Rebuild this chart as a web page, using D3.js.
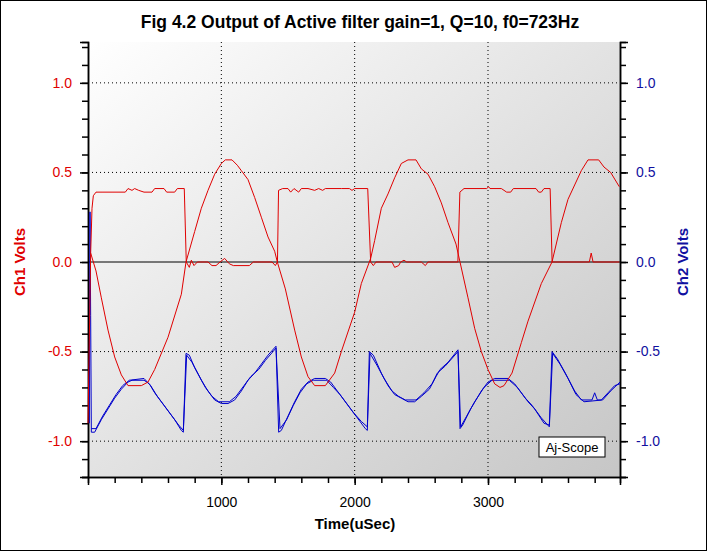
<!DOCTYPE html>
<html><head><meta charset="utf-8">
<script src="https://cdn.jsdelivr.net/npm/d3@7"></script>
<style>body{margin:0;background:#fff}svg{display:block;font-family:Arial,"Liberation Sans",sans-serif}</style>
</head><body><svg id="c" width="707" height="551"></svg>
<script>
const title = "Fig 4.2 Output of Active filter gain=1,  Q=10,  f0=723Hz";
const xTicks = [1000, 2000, 3000];
const yTicks = [1.0, 0.5, 0.0, -0.5, -1.0];
const yTickLabels = ["1.0", "0.5", "0.0", "-0.5", "-1.0"];
// Ch1 square-like trace [time, volts]
const ch1Square = [[0,-0.9],[20,0.05],[30,0.3],[40,0.37],[60,0.39],[280,0.39],[300,0.41],[330,0.4],[350,0.41],[380,0.4],[420,0.39],[480,0.39],[500,0.41],[570,0.41],[590,0.39],[650,0.39],[670,0.41],[722,0.41],[737,0.0],[760,-0.03],[775,0.01],[795,-0.02],[820,0],[900,0],[930,-0.02],[960,-0.02],[990,0],[1025,0.02],[1060,-0.01],[1090,-0.02],[1210,-0.02],[1240,0],[1380,0],[1405,-0.02],[1421,0.0],[1429,0.4],[1460,0.41],[1500,0.41],[1520,0.39],[1545,0.41],[1580,0.39],[1600,0.41],[1650,0.41],[1700,0.4],[1730,0.41],[1760,0.4],[1780,0.41],[1900,0.41],[1960,0.41],[1980,0.4],[2000,0.41],[2098,0.41],[2120,0.0],[2140,-0.02],[2160,0.0],[2280,0],[2300,-0.03],[2330,-0.02],[2345,0.0],[2370,0.01],[2390,0.0],[2500,0],[2530,-0.02],[2550,0.0],[2774,0.0],[2789,0.39],[2820,0.41],[2990,0.41],[3005,0.42],[3015,0.41],[3100,0.41],[3140,0.39],[3170,0.39],[3190,0.41],[3360,0.41],[3380,0.39],[3400,0.39],[3420,0.41],[3466,0.41],[3481,0.0],[3760,0.0],[3774,0.05],[3788,0.0],[3985,0.0]];
// Ch1 sine-like trace
const ch1Sine = [[20,0.05],[60,-0.05],[100,-0.2],[150,-0.38],[200,-0.53],[250,-0.63],[300,-0.69],[400,-0.69],[450,-0.67],[500,-0.6],[600,-0.42],[700,-0.18],[735,0.0],[800,0.17],[850,0.3],[900,0.4],[950,0.49],[1000,0.55],[1030,0.57],[1080,0.57],[1120,0.54],[1150,0.51],[1200,0.46],[1250,0.36],[1300,0.25],[1350,0.14],[1400,0.06],[1420,0.0],[1480,-0.15],[1550,-0.38],[1600,-0.53],[1650,-0.64],[1700,-0.69],[1780,-0.69],[1850,-0.62],[1900,-0.5],[2000,-0.28],[2050,-0.12],[2120,0.02],[2150,0.12],[2200,0.3],[2250,0.38],[2300,0.47],[2350,0.55],[2400,0.57],[2460,0.57],[2500,0.52],[2550,0.49],[2600,0.42],[2650,0.33],[2700,0.22],[2760,0.1],[2790,0.0],[2850,-0.2],[2900,-0.37],[2950,-0.5],[3000,-0.6],[3050,-0.68],[3090,-0.7],[3120,-0.69],[3180,-0.62],[3250,-0.45],[3300,-0.33],[3400,-0.12],[3480,0.0],[3550,0.22],[3600,0.35],[3650,0.43],[3700,0.51],[3750,0.57],[3830,0.57],[3870,0.53],[3920,0.5],[3985,0.42]];
// Ch2 traces (two overlapping sweeps)
const ch2A = [[10,-0.9],[15,0.28],[20,-0.3],[25,-0.95],[50,-0.95],[100,-0.88],[150,-0.82],[200,-0.76],[250,-0.71],[300,-0.67],[330,-0.66],[420,-0.66],[460,-0.68],[500,-0.73],[550,-0.78],[600,-0.83],[650,-0.88],[700,-0.94],[715,-0.95],[735,-0.51],[760,-0.52],[800,-0.59],[850,-0.66],[900,-0.72],[950,-0.77],[1000,-0.79],[1050,-0.79],[1100,-0.77],[1150,-0.72],[1200,-0.66],[1250,-0.62],[1300,-0.57],[1350,-0.52],[1410,-0.47],[1430,-0.95],[1450,-0.94],[1500,-0.86],[1550,-0.78],[1600,-0.71],[1650,-0.67],[1700,-0.65],[1780,-0.65],[1820,-0.67],[1870,-0.72],[1920,-0.77],[1970,-0.82],[2020,-0.87],[2080,-0.93],[2095,-0.94],[2110,-0.5],[2140,-0.52],[2200,-0.62],[2250,-0.69],[2300,-0.74],[2350,-0.76],[2400,-0.78],[2450,-0.78],[2500,-0.75],[2560,-0.71],[2610,-0.64],[2640,-0.6],[2700,-0.56],[2775,-0.49],[2790,-0.93],[2810,-0.91],[2870,-0.82],[2950,-0.72],[3000,-0.67],[3050,-0.65],[3150,-0.65],[3200,-0.68],[3250,-0.73],[3300,-0.78],[3350,-0.82],[3420,-0.9],[3460,-0.91],[3480,-0.5],[3520,-0.54],[3580,-0.62],[3650,-0.72],[3700,-0.77],[3780,-0.77],[3800,-0.73],[3820,-0.77],[3850,-0.77],[3900,-0.73],[3950,-0.69],[3990,-0.68]];
const ch2B = [[25,-0.93],[60,-0.93],[110,-0.86],[160,-0.8],[210,-0.74],[260,-0.69],[310,-0.66],[420,-0.65],[470,-0.69],[520,-0.75],[570,-0.8],[620,-0.85],[680,-0.91],[715,-0.94],[740,-0.52],[780,-0.56],[830,-0.63],[880,-0.7],[930,-0.75],[980,-0.78],[1060,-0.78],[1110,-0.75],[1170,-0.69],[1220,-0.64],[1280,-0.6],[1330,-0.55],[1410,-0.48],[1440,-0.93],[1490,-0.88],[1540,-0.8],[1590,-0.73],[1640,-0.68],[1690,-0.66],[1790,-0.66],[1840,-0.7],[1890,-0.74],[1940,-0.79],[1990,-0.84],[2050,-0.89],[2095,-0.92],[2115,-0.51],[2170,-0.58],[2220,-0.65],[2280,-0.72],[2330,-0.75],[2380,-0.77],[2460,-0.77],[2520,-0.73],[2580,-0.68],[2620,-0.62],[2680,-0.58],[2775,-0.5],[2795,-0.92],[2840,-0.86],[2900,-0.78],[2970,-0.7],[3030,-0.66],[3160,-0.66],[3220,-0.7],[3280,-0.76],[3330,-0.8],[3400,-0.87],[3460,-0.92],[3485,-0.51],[3540,-0.57],[3600,-0.65],[3660,-0.74],[3720,-0.78],[3860,-0.77],[3920,-0.72],[3990,-0.67]];

const svg = d3.select("#c");
const L=88, R=620, T=42, B=477;
const x = d3.scaleLinear().domain([0,3990]).range([L,R]);
const y = d3.scaleLinear().domain([-1.2,1.228]).range([B,T]);

svg.append("rect").attr("x",0.5).attr("y",0.5).attr("width",706).attr("height",550).attr("fill","#fff").attr("stroke","#000");
const grad = svg.append("defs").append("linearGradient").attr("id","bg").attr("x1","0").attr("y1","0").attr("x2","1").attr("y2","1");
grad.append("stop").attr("offset","0").attr("stop-color","#ffffff");
grad.append("stop").attr("offset","1").attr("stop-color","#c6c6c6");
svg.append("rect").attr("x",L).attr("y",T).attr("width",R-L).attr("height",B-T).attr("fill","url(#bg)");

svg.append("g").selectAll("line").data(xTicks).join("line")
  .attr("x1",d=>x(d)).attr("x2",d=>x(d)).attr("y1",T).attr("y2",B)
  .attr("stroke","#000").attr("stroke-dasharray","1,3");
svg.append("g").selectAll("line").data(yTicks.filter(d=>d!==0)).join("line")
  .attr("x1",L).attr("x2",R).attr("y1",d=>y(d)).attr("y2",d=>y(d))
  .attr("stroke","#000").attr("stroke-dasharray","1,3");
svg.append("line").attr("x1",L).attr("x2",R).attr("y1",y(0)).attr("y2",y(0)).attr("stroke","#000");

const minorY = d3.range(-12,13).map(d=>d/10);
const minorX = d3.range(200,4000,200);
const none = () => "";
svg.append("g").attr("transform",`translate(${L},0)`).call(d3.axisLeft(y).tickValues(minorY).tickFormat(none).tickSize(6));
svg.append("g").attr("transform",`translate(${L},0)`).call(d3.axisLeft(y).tickValues(yTicks).tickFormat(none).tickSize(8));
svg.append("g").attr("transform",`translate(${R},0)`).call(d3.axisRight(y).tickValues(minorY).tickFormat(none).tickSize(6));
svg.append("g").attr("transform",`translate(${R},0)`).call(d3.axisRight(y).tickValues(yTicks).tickFormat(none).tickSize(8));
svg.append("g").attr("transform",`translate(0,${B})`).call(d3.axisBottom(x).tickValues(minorX).tickFormat(none).tickSize(6));
const gb2 = svg.append("g").attr("transform",`translate(0,${B})`).call(d3.axisBottom(x).tickValues(xTicks).tickFormat(d3.format("d")).tickSize(8).tickPadding(12));
gb2.selectAll("text").attr("fill","#000").attr("font-size",14).attr("font-family","Arial");
svg.selectAll(".domain").attr("stroke","#000").attr("stroke-width",1.5);
svg.selectAll(".tick line").attr("stroke","#000").attr("stroke-width",1.5);

svg.append("g").selectAll("text").data(yTicks).join("text")
  .attr("x",L-16).attr("y",d=>y(d)).attr("dy","0.35em").attr("text-anchor","end")
  .attr("font-size",14).attr("fill","#e00000").text((d,i)=>yTickLabels[i]);
svg.append("g").selectAll("text").data(yTicks).join("text")
  .attr("x",R+16).attr("y",d=>y(d)).attr("dy","0.35em").attr("text-anchor","start")
  .attr("font-size",14).attr("fill","#1010a0").text((d,i)=>yTickLabels[i]);

const line = d3.line().x(d=>x(d[0])).y(d=>y(d[1]));
const plot = svg.append("g");
plot.append("path").datum(ch2B).attr("d",line).attr("fill","none").attr("stroke","#0000cc").attr("stroke-width",1);
plot.append("path").datum(ch2A).attr("d",line).attr("fill","none").attr("stroke","#0000cc").attr("stroke-width",1);
plot.append("path").datum(ch1Sine).attr("d",line).attr("fill","none").attr("stroke","#e00000").attr("stroke-width",1);
plot.append("path").datum(ch1Square).attr("d",line).attr("fill","none").attr("stroke","#e00000").attr("stroke-width",1);

svg.append("text").attr("x",360).attr("y",28).attr("text-anchor","middle").attr("font-size",17.5).attr("font-weight","bold").text(title);
svg.append("text").attr("x",355).attr("y",529).attr("text-anchor","middle").attr("font-size",15).attr("font-weight","bold").text("Time(uSec)");
svg.append("text").attr("transform","translate(25,262) rotate(-90)").attr("text-anchor","middle").attr("font-size",15).attr("font-weight","bold").attr("fill","#e00000").text("Ch1 Volts");
svg.append("text").attr("transform","translate(688,262) rotate(-90)").attr("text-anchor","middle").attr("font-size",15).attr("font-weight","bold").attr("fill","#1010a0").text("Ch2 Volts");
svg.append("rect").attr("x",539).attr("y",437).attr("width",66).attr("height",20).attr("fill","#fff").attr("stroke","#000");
svg.append("text").attr("x",572).attr("y",452).attr("text-anchor","middle").attr("font-size",13).text("Aj-Scope");
</script></body></html>
